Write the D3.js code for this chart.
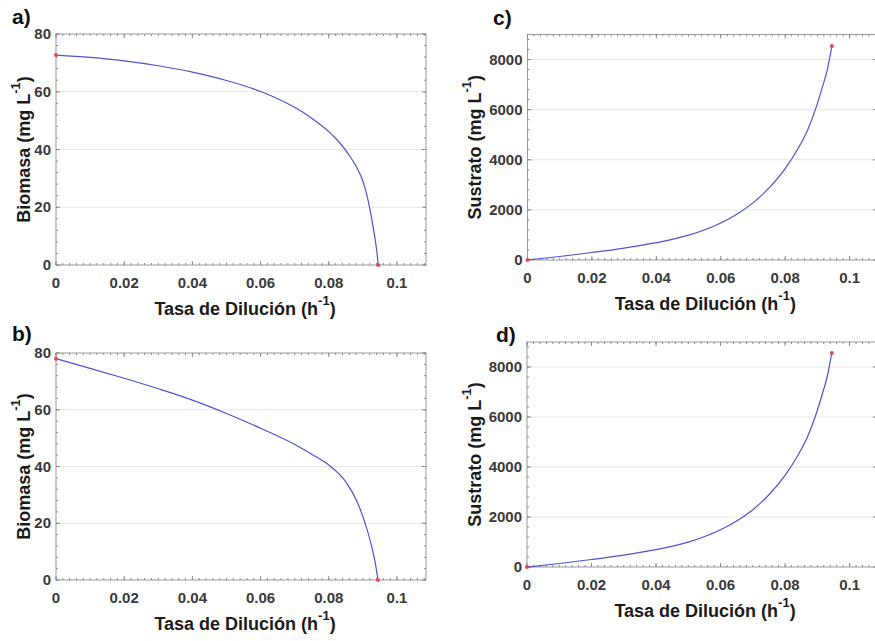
<!DOCTYPE html>
<html>
<head>
<meta charset="utf-8">
<script src="https://cdn.jsdelivr.net/npm/d3@7"></script>
<style>
  body { margin: 0; background: #fff; }
  svg { display: block; font-family: "Liberation Sans", Arial, sans-serif; }
  .tick-label { font-size: 15px; font-weight: bold; fill: #3a3a3a; }
  .axis-label { font-size: 18px; font-weight: bold; fill: #1a1a1a; }
  .panel-label { font-size: 21px; font-weight: bold; fill: #111; }
</style>
</head>
<body>
<svg id="chart" width="875" height="641"></svg>
<script>
// Dilution rate ticks (shared by all panels)
var xTicks = [0, 0.02, 0.04, 0.06, 0.08, 0.1];
var xTickLabels = ["0", "0.02", "0.04", "0.06", "0.08", "0.1"];
var xMax = 0.1085;

var yTicksBio = [0, 20, 40, 60, 80];
var yTicksSus = [0, 2000, 4000, 6000, 8000];

// a) biomass vs dilution rate
var dilA = [0, 0.01, 0.02, 0.03, 0.04, 0.05, 0.06, 0.065, 0.07, 0.075, 0.08, 0.083, 0.086, 0.088, 0.09, 0.0915, 0.0928, 0.0937, 0.0942, 0.0945];
var bioA = [72.7, 71.9, 70.7, 69.0, 66.8, 63.9, 60.1, 57.6, 54.6, 50.8, 46.2, 42.6, 38.0, 34.2, 29.0, 22.5, 14.5, 8.0, 3.5, 0];

// b) biomass vs dilution rate
var dilB = [0, 0.01, 0.02, 0.03, 0.04, 0.05, 0.06, 0.0703, 0.075, 0.08, 0.085, 0.0883, 0.0908, 0.0927, 0.0939, 0.0944];
var bioB = [78.0, 74.6, 71.1, 67.4, 63.4, 58.7, 53.5, 47.6, 44.3, 40.5, 34.6, 27.6, 19.4, 11.2, 4.1, 0];

// c) substrate vs dilution rate
var dilC = [0, 0.01, 0.02, 0.03, 0.04, 0.05, 0.06, 0.065, 0.07, 0.075, 0.08, 0.084, 0.087, 0.0895, 0.0915, 0.093, 0.0945];
var susC = [0, 140, 300, 475, 690, 990, 1480, 1830, 2280, 2880, 3650, 4450, 5200, 6050, 6880, 7560, 8538];

// d) substrate vs dilution rate
var dilD = [0, 0.01, 0.02, 0.03, 0.04, 0.05, 0.06, 0.065, 0.07, 0.075, 0.08, 0.084, 0.087, 0.0895, 0.0915, 0.093, 0.0945];
var susD = [0, 140, 300, 478, 695, 995, 1490, 1840, 2290, 2890, 3665, 4470, 5220, 6070, 6900, 7580, 8560];

var panels = [
  { id: "a)", xs: dilA, ys: bioA, yMax: 80, yTicks: yTicksBio, yMinor: 4, ylabX: 30,
    left: 56, right: 426, top: 34, bottom: 265, ylab: "Biomasa (mg L", labX: 12, labY: 24 },
  { id: "b)", xs: dilB, ys: bioB, yMax: 80, yTicks: yTicksBio, yMinor: 4, ylabX: 30,
    left: 56, right: 426, top: 353, bottom: 580, ylab: "Biomasa (mg L", labX: 12, labY: 341 },
  { id: "c)", xs: dilC, ys: susC, yMax: 9000, yTicks: yTicksSus, yMinor: 400, ylabX: 481,
    left: 527.5, right: 877, top: 34.5, bottom: 260, ylab: "Sustrato (mg L", labX: 493, labY: 25 },
  { id: "d)", xs: dilD, ys: susD, yMax: 9000, yTicks: yTicksSus, yMinor: 400, ylabX: 481,
    left: 527, right: 877, top: 342, bottom: 567, ylab: "Sustrato (mg L", labX: 496, labY: 342 }
];

var svg = d3.select("#chart");

panels.forEach(function (p) {
  var x = d3.scaleLinear().domain([0, xMax]).range([p.left, p.right]);
  var y = d3.scaleLinear().domain([0, p.yMax]).range([p.bottom, p.top]);
  var g = svg.append("g");

  // grid lines at major y ticks
  g.selectAll(".grid").data(p.yTicks.filter(function (v) { return v > 0 && v < p.yMax; }))
    .enter().append("line")
    .attr("x1", p.left).attr("x2", p.right)
    .attr("y1", function (d) { return y(d); }).attr("y2", function (d) { return y(d); })
    .attr("stroke", "#e6e6e6").attr("stroke-width", 1);

  // box
  g.append("rect")
    .attr("x", p.left).attr("y", p.top)
    .attr("width", p.right - p.left).attr("height", p.bottom - p.top)
    .attr("fill", "none").attr("stroke", "#9a9a9a").attr("stroke-width", 1);

  // ticks inside the box, major and minor
  var xMinorTicks = d3.range(0, xMax, 0.002);
  var yMinorTicks = d3.range(0, p.yMax + 1e-9, p.yMinor);
  [p.top, p.bottom].forEach(function (edge) {
    var dir = edge === p.top ? 1 : -1;
    g.selectAll(null).data(xMinorTicks).enter().append("line")
      .attr("x1", function (d) { return x(d); }).attr("x2", function (d) { return x(d); })
      .attr("y1", edge).attr("y2", edge + dir * 2)
      .attr("stroke", "#8a8a8a");
    g.selectAll(null).data(xTicks).enter().append("line")
      .attr("x1", function (d) { return x(d); }).attr("x2", function (d) { return x(d); })
      .attr("y1", edge).attr("y2", edge + dir * 4)
      .attr("stroke", "#8a8a8a");
  });
  [p.left, p.right].forEach(function (edge) {
    var dir = edge === p.left ? 1 : -1;
    g.selectAll(null).data(yMinorTicks).enter().append("line")
      .attr("y1", function (d) { return y(d); }).attr("y2", function (d) { return y(d); })
      .attr("x1", edge).attr("x2", edge + dir * 2)
      .attr("stroke", "#8a8a8a");
    g.selectAll(null).data(p.yTicks).enter().append("line")
      .attr("y1", function (d) { return y(d); }).attr("y2", function (d) { return y(d); })
      .attr("x1", edge).attr("x2", edge + dir * 4)
      .attr("stroke", "#8a8a8a");
  });

  // tick labels
  g.selectAll(null).data(xTicks).enter().append("text")
    .attr("class", "tick-label")
    .attr("x", function (d) { return x(d); })
    .attr("y", p.bottom + 23)
    .attr("text-anchor", "middle")
    .text(function (d, i) { return xTickLabels[i]; });

  g.selectAll(null).data(p.yTicks).enter().append("text")
    .attr("class", "tick-label")
    .attr("x", p.left - 5)
    .attr("y", function (d) { return y(d) + 5; })
    .attr("text-anchor", "end")
    .text(function (d) { return d; });

  // curve
  var pts = p.xs.map(function (v, i) { return [v, p.ys[i]]; });
  var line = d3.line()
    .x(function (d) { return x(d[0]); })
    .y(function (d) { return y(d[1]); })
    .curve(d3.curveMonotoneX);

  g.append("path")
    .attr("d", line(pts))
    .attr("fill", "none")
    .attr("stroke", "#5252cf")
    .attr("stroke-width", 1.2);

  // end points
  g.selectAll(null).data([pts[0], pts[pts.length - 1]]).enter().append("circle")
    .attr("cx", function (d) { return x(d[0]); })
    .attr("cy", function (d) { return y(d[1]); })
    .attr("r", 2)
    .attr("fill", "#e8455a");

  // axis labels
  var xl = g.append("text")
    .attr("class", "axis-label")
    .attr("x", (p.left + Math.min(p.right, 875)) / 2 + 4)
    .attr("y", p.bottom + 50)
    .attr("text-anchor", "middle");
  xl.append("tspan").text("Tasa de Dilución (h");
  xl.append("tspan").attr("font-size", "13px").attr("dy", -10).text("-1");
  xl.append("tspan").attr("dy", 10).text(")");

  var cy = (p.top + p.bottom) / 2;
  var yl = g.append("text")
    .attr("class", "axis-label")
    .attr("transform", "translate(" + p.ylabX + "," + cy + ") rotate(-90)")
    .attr("text-anchor", "middle");
  yl.append("tspan").text(p.ylab);
  yl.append("tspan").attr("font-size", "13px").attr("dy", -10).text("-1");
  yl.append("tspan").attr("dy", 10).text(")");

  // panel letter
  g.append("text")
    .attr("class", "panel-label")
    .attr("x", p.labX).attr("y", p.labY)
    .text(p.id);
});
</script>
</body>
</html>
